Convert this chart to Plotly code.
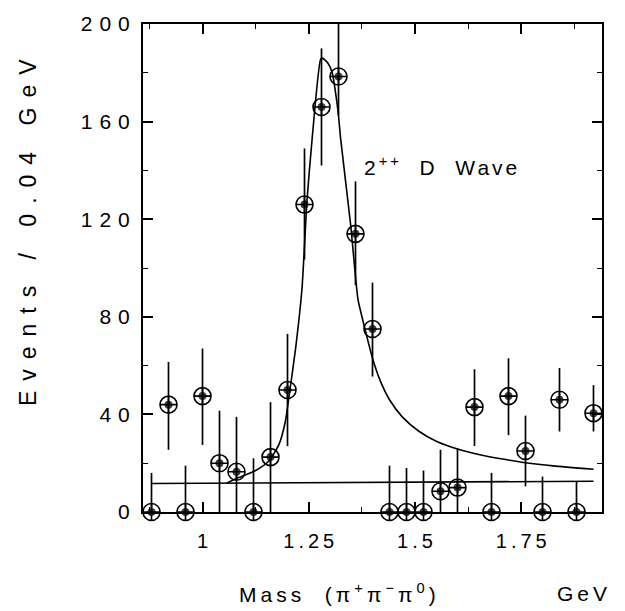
import plotly.graph_objects as go

# ---- data ----
mass = [0.88, 0.92, 0.96, 1.00, 1.04, 1.08, 1.12, 1.16, 1.20, 1.24, 1.28, 1.32, 1.36, 1.40,
        1.44, 1.48, 1.52, 1.56, 1.60, 1.64, 1.68, 1.72, 1.76, 1.80, 1.84, 1.88, 1.92]
events = [0, 44, 0, 47.5, 20, 16.5, 0, 22.5, 50, 126, 166, 178.5, 114, 75,
          0, 0, 0, 8.5, 10, 43, 0, 47.5, 25, 0, 46, 0, 40.5]
err_up = [16, 17.5, 19, 19.5, 21.5, 22.5, 22, 22.5, 23, 23, 24, 21.5, 21.5, 19,
          19, 18, 17, 17, 16, 15.5, 16, 15.5, 14.5, 14.5, 13, 12.5, 11.5]
err_dn = [0, 18.5, 0, 20, 20, 16.5, 0, 22.5, 23, 22.5, 24, 16, 21, 19.5,
          0, 0, 0, 8.5, 10, 16, 0, 16, 14.5, 0, 13, 0, 7.5]

fit_mass = [1.057, 1.085, 1.124, 1.156, 1.180, 1.195, 1.203, 1.219, 1.234, 1.246, 1.258,
            1.278, 1.282, 1.294, 1.305, 1.314, 1.320, 1.325, 1.349, 1.357, 1.366, 1.384,
            1.400, 1.420, 1.440, 1.470, 1.510, 1.550, 1.600, 1.650, 1.710, 1.760, 1.825, 1.920]
fit_events = [11.8, 14.1, 16.9, 20.9, 27.7, 37.2, 46.7, 67, 91.4, 128, 153,
              185.6, 186, 184.2, 180.2, 170.7, 162.5, 153, 117, 102, 87, 73.8,
              63, 53, 46, 39, 33, 29, 25.8, 23.6, 21.6, 20.2, 18.9, 17.5]

bg_mass = [0.88, 1.92]
bg_events = [11.7, 12.6]

x_tickvals = [1.0, 1.25, 1.5, 1.75]
x_ticktext = ["1", "1.25", "1.5", "1.75"]
y_tickvals = [0, 40, 80, 120, 160, 200]
y_ticktext = ["0", "40", "80", "120", "160", "200"]

FONT = "Liberation Sans"


def spaced(t, px):
    # letter-spacing on every character but the last, so no trailing gap
    if len(t) <= 1:
        return t
    return '<span style="letter-spacing:%dpx">%s</span>%s' % (px, t[:-1], t[-1])


fig = go.Figure()

# background line
fig.add_trace(go.Scatter(x=bg_mass, y=bg_events, mode="lines",
                         line=dict(color="black", width=1.6), hoverinfo="skip"))
# fit curve
fig.add_trace(go.Scatter(x=fit_mass, y=fit_events, mode="lines",
                         line=dict(color="black", width=1.6, shape="spline", smoothing=0.6),
                         hoverinfo="skip"))
# data points with error bars
fig.add_trace(go.Scatter(
    x=mass, y=events, mode="markers",
    marker=dict(symbol="circle-cross-open", size=17, color="black",
                line=dict(width=1.6, color="black")),
    error_y=dict(type="data", symmetric=False, array=err_up, arrayminus=err_dn,
                 color="black", thickness=1.7, width=0),
    cliponaxis=False))
# dark core of the markers
fig.add_trace(go.Scatter(
    x=mass, y=events, mode="markers",
    marker=dict(symbol="circle", size=8, color="rgba(0,0,0,0.75)"),
    cliponaxis=False, hoverinfo="skip"))

fig.update_layout(
    width=625, height=611,
    margin=dict(l=143, r=23, t=19, b=99),
    paper_bgcolor="white", plot_bgcolor="white",
    showlegend=False,
    font=dict(family=FONT, size=20, color="black"),
    xaxis=dict(range=[0.86, 1.94], tickvals=x_tickvals,
               ticktext=[spaced(t, 4) for t in x_ticktext],
               ticks="inside", ticklen=10, tickwidth=1.5, tickcolor="black",
               minor=dict(dtick=0.125, tick0=1.0, ticks="inside", ticklen=5,
                          tickcolor="black", tickwidth=1.2),
               showline=True, linewidth=2, linecolor="black", mirror="ticks",
               showgrid=False, zeroline=False, ticklabelstandoff=10,
               tickfont=dict(size=20)),
    yaxis=dict(range=[0, 200], tickvals=y_tickvals,
               ticktext=[spaced(t, 7) for t in y_ticktext],
               ticks="inside", ticklen=10, tickwidth=1.5, tickcolor="black",
               minor=dict(dtick=20, tick0=0, ticks="inside", ticklen=5,
                          tickcolor="black", tickwidth=1.2),
               showline=True, linewidth=2, linecolor="black", mirror="ticks",
               showgrid=False, zeroline=False, ticklabelstandoff=7,
               tickfont=dict(size=21)),
)

ann_font = dict(family=FONT, size=21, color="black")
fig.add_annotation(text=spaced("Events / 0.04 GeV", 10),
                   xref="paper", yref="paper", x=-0.25, y=0.572,
                   textangle=-90, showarrow=False, font=dict(family=FONT, size=23, color="black"),
                   xanchor="center", yanchor="middle")
fig.add_annotation(text='<span style="letter-spacing:4px">Mass  (π<sup>+</sup>π<sup>−</sup>π<sup>0</sup></span>)',
                   xref="paper", yref="paper", x=0.4237, y=-0.166,
                   showarrow=False, font=ann_font, xanchor="center", yanchor="middle")
fig.add_annotation(text=spaced("GeV", 4),
                   xref="paper", yref="paper", x=0.9575, y=-0.166,
                   showarrow=False, font=ann_font, xanchor="center", yanchor="middle")
fig.add_annotation(text='<span style="letter-spacing:3px">2<sup>++</sup>  D  Wav</span>e',
                   xref="x", yref="y", x=1.56, y=142,
                   showarrow=False, font=ann_font, xanchor="center", yanchor="middle")

fig.write_html("out.html")
